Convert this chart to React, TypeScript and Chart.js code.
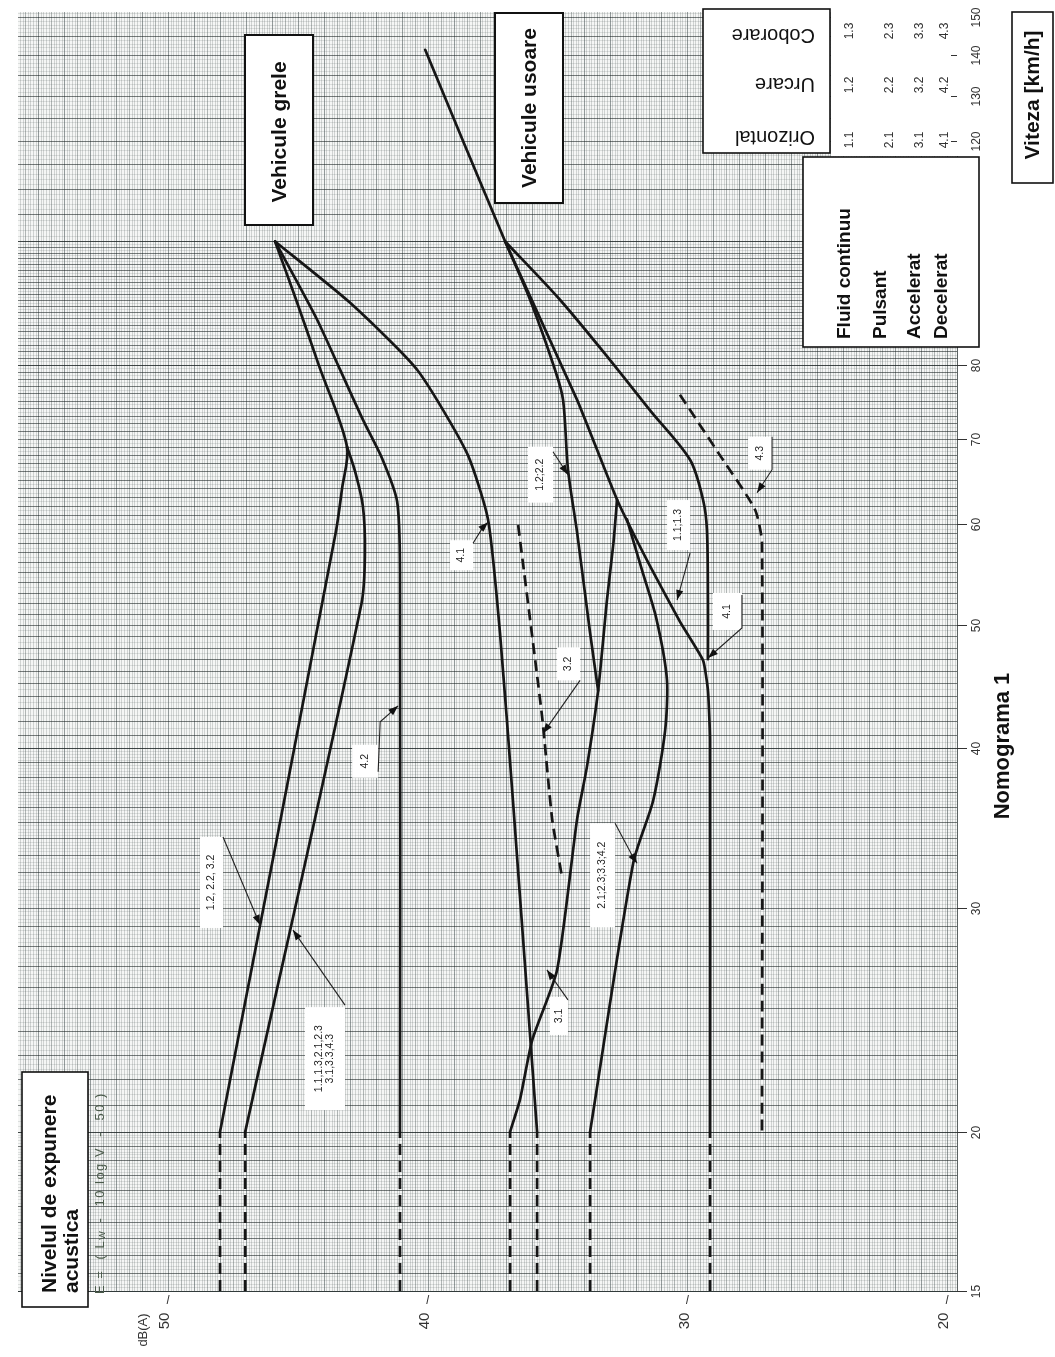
import { useEffect, useRef } from 'react';
import { Chart, registerables } from 'chart.js';

Chart.register(...registerables);

type Pt = [number, number]; // [dB(A), km/h]

const W = 1055;
const H = 1357;

// axis ranges
const DB_MIN = 19.62;
const DB_MAX = 55.78;
const V_MIN = 15;
const V_MAX = 151.4;

// tick labels
const dbTicks = [20, 30, 40, 50];
const speedTicks = [15, 20, 30, 40, 50, 60, 70, 80];
const topSpeedTicks = [120, 130, 140, 150];

// ---- Vehicule grele (heavy vehicles) ----
const heavyUphill: Pt[] = [[48.0, 20], [43.55, 59], [43.3, 64], [43.11, 69], [44.2, 80], [45.07, 90], [45.88, 100]]; // 1.2, 2.2, 3.2
const heavyLevel: Pt[] = [[47.03, 20], [42.55, 52], [42.42, 57], [42.5, 62], [42.8, 66], [43.11, 69]]; // 1.1,1.3,2.1,2.3,3.1,3.3,4.3
const heavyDecelUp: Pt[] = [[41.07, 20], [41.07, 55], [41.18, 62.5], [41.75, 67.5], [42.49, 72.4], [43.4, 79.5], [44.26, 86.8], [45.1, 93.5], [45.88, 100]]; // 4.2
const heavyDecel: Pt[] = [[35.79, 20], [36.72, 36.4], [37.22, 49.3], [37.68, 60.5], [38.49, 68.2], [40.41, 79.3], [42.99, 89.5], [45.88, 100]]; // 4.1

// ---- Vehicule usoare (light vehicles) ----
const lightFluid: Pt[] = [[40.1, 141.4], [37.02, 100], [34.25, 75.1], [32.71, 62.7], [31.44, 55.6], [30.29, 50.3], [29.4, 46.9], [29.21, 44.4], [29.13, 40.6], [29.13, 20]]; // 1.1;1.3
const lightDecel: Pt[] = [[37.02, 100], [34.91, 90], [32.98, 80.7], [31.44, 73.7], [29.9, 67.4], [29.4, 62.7], [29.25, 59.4], [29.21, 52], [29.21, 47]]; // 4.1
const lightUphill: Pt[] = [[37.02, 100], [36.06, 90], [35.1, 79.3], [34.79, 75.1], [34.6, 66.2], [34.25, 59.1], [33.75, 49.3], [33.44, 44.4]]; // 1.2;2.2
const lightAccel: Pt[] = [[36.83, 20], [36.45, 21.2], [35.98, 23.6], [35.02, 26.8], [34.25, 35.2], [33.87, 38.7], [33.44, 44.4], [33.1, 52.3], [32.85, 58], [32.71, 62.7]]; // 3.1
const lightPulsed: Pt[] = [[33.75, 20], [32.09, 32.5], [31.32, 36.4], [30.86, 41.3], [30.79, 45.3], [31.2, 50.6], [31.75, 55.2], [32.33, 60.5]]; // 2.1;2.3;3.3;4.2
const lightAccelUp: Pt[] = [[36.52, 59.9], [35.6, 42.4], [35.21, 35.2], [34.83, 31.7]]; // 3.2 (dashed)
const lightDecelDown: Pt[] = [[30.29, 75.8], [28.74, 67.9], [27.4, 61.6], [27.13, 58], [27.13, 20]]; // 4.3 (dashed)

// constant levels below 20 km/h (dashed)
const lowSpeedLevels = [48.0, 47.03, 41.07, 35.79, 36.83, 33.75, 29.13];
const lowSpeedRange = [15, 20];

// curve labels: text, arrow tip [dB, km/h], box [dx, dy, w, h] in px from tip, leader points (px from tip)
const curveLabels: { lines: string[]; tip: Pt; box: number[]; leader: number[][] }[] = [
  { lines: ['1.2, 2.2, 3.2'], tip: [46.46, 29.07], box: [-60, -88, 23, 91], leader: [[-37, -88]] },
  { lines: ['1.1,1.3,2.1,2.3', '3.1,3.3,4.3'], tip: [45.19, 28.8], box: [12, 77, 40, 103], leader: [[52, 75]] },
  { lines: ['4.2'], tip: [41.14, 43.2], box: [-46, 39, 26, 33], leader: [[-20, 66], [-18, 16]] },
  { lines: ['4.1'], tip: [37.68, 60.2], box: [-38, 18, 23, 30], leader: [[-15, 21], [-5, 5]] },
  { lines: ['1.2;2.2'], tip: [34.6, 65.6], box: [-40, -28, 25, 56], leader: [[-15, -23]] },
  { lines: ['3.2'], tip: [35.56, 41.1], box: [14, -86, 23, 33], leader: [[37, -53]] },
  { lines: ['1.1;1.3'], tip: [30.4, 52.3], box: [-10, -100, 23, 50], leader: [[13, -47]] },
  { lines: ['4.1'], tip: [29.21, 47.1], box: [5, -65, 29, 37], leader: [[34, -63], [34, -30]] },
  { lines: ['4.3'], tip: [27.32, 63.5], box: [-9, -56, 24, 33], leader: [[15, -56], [15, -23]] },
  { lines: ['2.1;2.3;3.3;4.2'], tip: [31.94, 32.5], box: [-47, -40, 25, 104], leader: [[-22, -40], [-4, -6]] },
  { lines: ['3.1'], tip: [35.41, 26.8], box: [3, 27, 18, 38], leader: [[21, 30]] },
];

const tableCols = [
  ['1.1', '1.2', '1.3'],
  ['2.1', '2.2', '2.3'],
  ['3.1', '3.2', '3.3'],
  ['4.1', '4.2', '4.3'],
];
const gradeLabels = ['Orizontal', 'Urcare', 'Coborare'];
const flowLabels = ['Fluid continuu', 'Pulsant', 'Accelerat', 'Decelerat'];

const SANS = '"Liberation Sans", Arial, sans-serif';
const NARROW = '"Liberation Sans Narrow", "Liberation Sans", Arial, sans-serif';

function toXY(p: Pt[]) {
  return p.map(([x, y]) => ({ x, y }));
}

function solid(p: Pt[], tension = 0.3) {
  return {
    data: toXY(p),
    borderColor: '#161616',
    borderWidth: 2.7,
    pointRadius: 0,
    fill: false,
    tension,
    borderCapStyle: 'round',
    borderJoinStyle: 'round',
  };
}
function dashed(p: Pt[], tension = 0.2) {
  return { ...solid(p, tension), borderDash: [11, 6], borderCapStyle: 'butt' };
}

function rotText(ctx: CanvasRenderingContext2D, text: string, x: number, y: number, font: string, angle = -Math.PI / 2, align: CanvasTextAlign = 'center', color = '#111') {
  ctx.save();
  ctx.translate(x, y);
  ctx.rotate(angle);
  ctx.font = font;
  ctx.fillStyle = color;
  ctx.textAlign = align;
  ctx.textBaseline = 'middle';
  ctx.fillText(text, 0, 0);
  ctx.restore();
}

function box(ctx: CanvasRenderingContext2D, x0: number, y0: number, x1: number, y1: number, lw = 2) {
  ctx.save();
  ctx.fillStyle = '#fff';
  ctx.fillRect(x0, y0, x1 - x0, y1 - y0);
  ctx.strokeStyle = '#111';
  ctx.lineWidth = lw;
  ctx.strokeRect(x0, y0, x1 - x0, y1 - y0);
  ctx.restore();
}

const paperPlugin = {
  id: 'paper',
  beforeDatasetsDraw(chart: any) {
    const { ctx, chartArea: a, scales } = chart;
    const xs = scales.x;
    const ys = scales.y;
    ctx.save();
    ctx.fillStyle = '#f5f6f5';
    ctx.fillRect(a.left, a.top, a.right - a.left, a.bottom - a.top);
    ctx.lineWidth = 1;
    // vertical lines (constant dB)
    for (let i = Math.ceil(DB_MIN * 10); i <= Math.floor(DB_MAX * 10); i++) {
      const px = Math.round(xs.getPixelForValue(i / 10)) + 0.5;
      ctx.strokeStyle = i % 10 === 0 ? 'rgba(40,55,55,0.48)' : i % 5 === 0 ? 'rgba(50,60,60,0.35)' : 'rgba(70,80,80,0.21)';
      ctx.beginPath();
      ctx.moveTo(px, a.top);
      ctx.lineTo(px, a.bottom);
      ctx.stroke();
    }
    // horizontal lines (constant speed)
    const bands = [
      [15, 20, 0.5, 0.1],
      [20, 40, 1, 0.2],
      [40, 80, 1, 0.5],
      [80, 100, 1, 0.5],
      [100, 151, 5, 1],
    ];
    for (const [lo, hi, major, minor] of bands) {
      const n = Math.round((hi - lo) / minor);
      for (let k = 0; k <= n; k++) {
        const v = lo + k * minor;
        if (v > V_MAX) break;
        const isMajor = Math.abs(v / major - Math.round(v / major)) < 1e-6;
        const py = Math.round(ys.getPixelForValue(v)) + 0.5;
        ctx.strokeStyle = isMajor ? 'rgba(25,35,35,0.58)' : 'rgba(70,80,80,0.15)';
        ctx.beginPath();
        ctx.moveTo(a.left, py);
        ctx.lineTo(a.right, py);
        ctx.stroke();
      }
    }
    // white area behind the table
    ctx.fillStyle = '#fff';
    ctx.fillRect(831, 6, a.right - 831 + 12, 150);
    // plot edges
    ctx.strokeStyle = 'rgba(20,30,30,0.7)';
    ctx.beginPath();
    ctx.moveTo(a.right + 0.5, 156);
    ctx.lineTo(a.right + 0.5, a.bottom + 0.5);
    ctx.lineTo(a.left, a.bottom + 0.5);
    ctx.stroke();
    ctx.restore();
  },
};

const labelsPlugin = {
  id: 'curveLabels',
  afterDatasetsDraw(chart: any) {
    const { ctx, scales } = chart;
    ctx.save();
    for (const lab of curveLabels) {
      const tx = scales.x.getPixelForValue(lab.tip[0]);
      const ty = scales.y.getPixelForValue(lab.tip[1]);
      const [dx, dy, w, h] = lab.box;
      ctx.fillStyle = '#fff';
      ctx.fillRect(tx + dx, ty + dy, w, h);
      const n = lab.lines.length;
      lab.lines.forEach((t, i) => {
        const cx = tx + dx + w / 2 + (i - (n - 1) / 2) * 11;
        rotText(ctx, t, cx, ty + dy + h / 2, `10.5px ${NARROW}`, -Math.PI / 2, 'center', '#222');
      });
      const pts = lab.leader.map(([px, py]) => [tx + px, ty + py]);
      pts.push([tx, ty]);
      ctx.strokeStyle = '#222';
      ctx.lineWidth = 1.1;
      ctx.beginPath();
      ctx.moveTo(pts[0][0], pts[0][1]);
      for (let i = 1; i < pts.length; i++) ctx.lineTo(pts[i][0], pts[i][1]);
      ctx.stroke();
      const [x1, y1] = pts[pts.length - 2];
      const ang = Math.atan2(ty - y1, tx - x1);
      const L = 10;
      const Wd = 3.6;
      ctx.fillStyle = '#111';
      ctx.beginPath();
      ctx.moveTo(tx, ty);
      ctx.lineTo(tx - L * Math.cos(ang) + Wd * Math.sin(ang), ty - L * Math.sin(ang) - Wd * Math.cos(ang));
      ctx.lineTo(tx - L * Math.cos(ang) - Wd * Math.sin(ang), ty - L * Math.sin(ang) + Wd * Math.cos(ang));
      ctx.closePath();
      ctx.fill();
    }
    ctx.restore();
  },
};

const decorPlugin = {
  id: 'decor',
  afterDraw(chart: any) {
    const { ctx, chartArea: a, scales } = chart;
    const xs = scales.x;
    const ys = scales.y;
    ctx.save();
    // dB axis
    ctx.strokeStyle = '#333';
    ctx.lineWidth = 1;
    for (const v of dbTicks) {
      const px = xs.getPixelForValue(v);
      ctx.beginPath();
      ctx.moveTo(px + 1, a.bottom + 4);
      ctx.lineTo(px - 1, a.bottom + 13);
      ctx.stroke();
      rotText(ctx, String(v), px - 3, a.bottom + 30, `15px ${NARROW}`, -Math.PI / 2, 'center', '#333');
    }
    rotText(ctx, 'dB(A)', xs.getPixelForValue(50) - 25, a.bottom + 39, `13px ${NARROW}`, -Math.PI / 2, 'center', '#333');
    // speed axis
    for (const v of speedTicks) {
      const py = Math.round(ys.getPixelForValue(v)) + 0.5;
      ctx.beginPath();
      ctx.moveTo(a.right, py);
      ctx.lineTo(a.right + 10, py);
      ctx.stroke();
      rotText(ctx, String(v), a.right + 20, py, `12px ${NARROW}`, -Math.PI / 2, 'center', '#333');
    }
    for (const v of topSpeedTicks) {
      const py = Math.round(ys.getPixelForValue(v)) + 0.5;
      if (v !== 150) {
        ctx.beginPath();
        ctx.moveTo(a.right - 6, py);
        ctx.lineTo(a.right, py);
        ctx.stroke();
      }
      rotText(ctx, String(v), a.right + 20, py, `12px ${NARROW}`, -Math.PI / 2, 'center', '#333');
    }
    // table numbers
    const colX = [850, 890, 920, 945];
    const rowY = [140, 85, 31];
    tableCols.forEach((col, ci) => {
      col.forEach((t, ri) => {
        rotText(ctx, t, colX[ci], rowY[ri], `12px ${NARROW}`, -Math.PI / 2, 'center', '#333');
      });
    });

    // boxes
    box(ctx, 245, 35, 313, 225);
    rotText(ctx, 'Vehicule grele', 280, 132, `bold 21px ${SANS}`);
    box(ctx, 495, 13, 563, 203);
    rotText(ctx, 'Vehicule usoare', 530, 108, `bold 21px ${SANS}`);

    box(ctx, 703, 9, 830, 153, 1.6);
    const gy = [137, 84, 35];
    gradeLabels.forEach((t, i) => rotText(ctx, t, 815, gy[i], `20px ${SANS}`, Math.PI, 'left', '#111'));

    box(ctx, 803, 157, 979, 347, 1.6);
    const fx = [845, 881, 915, 942];
    flowLabels.forEach((t, i) => rotText(ctx, t, fx[i], 339, `bold 19px ${SANS}`, -Math.PI / 2, 'left'));

    box(ctx, 1012, 12, 1053, 183, 1.6);
    rotText(ctx, 'Viteza [km/h]', 1033, 95, `bold 21px ${SANS}`);

    box(ctx, 22, 1072, 88, 1307, 1.6);
    rotText(ctx, 'Nivelul de expunere', 50, 1293, `bold 21px ${SANS}`, -Math.PI / 2, 'left');
    rotText(ctx, 'acustica', 72, 1293, `bold 21px ${SANS}`, -Math.PI / 2, 'left');

    // formula
    ctx.save();
    ctx.translate(100, 1294);
    ctx.rotate(-Math.PI / 2);
    ctx.fillStyle = '#4a5a4a';
    ctx.textBaseline = 'middle';
    ctx.textAlign = 'left';
    (ctx as any).letterSpacing = '1.5px';
    ctx.font = `13px ${NARROW}`;
    let cx = 0;
    const seg1 = 'E =  ( L';
    ctx.fillText(seg1, cx, 0);
    cx += ctx.measureText(seg1).width;
    ctx.font = `9px ${NARROW}`;
    ctx.fillText('W', cx, 3);
    cx += ctx.measureText('W').width + 2;
    ctx.font = `13px ${NARROW}`;
    ctx.fillText(' -  10 log V  -  50 )', cx, 0);
    ctx.restore();

    rotText(ctx, 'Nomograma 1', 1003, 746, `bold 22px ${SANS}`);
    ctx.restore();
  },
};

export default function App() {
  const ref = useRef<HTMLCanvasElement>(null);
  useEffect(() => {
    const prev = document.body.style.margin;
    document.body.style.margin = '0';
    const canvas = ref.current!;
    const datasets: any[] = [
      solid(heavyUphill),
      solid(heavyLevel),
      solid(heavyDecelUp, 0.25),
      solid(heavyDecel, 0.2),
      solid(lightFluid, 0.15),
      solid(lightDecel),
      solid(lightUphill),
      solid(lightAccel, 0.2),
      solid(lightPulsed, 0.25),
      dashed(lightAccelUp),
      dashed(lightDecelDown),
      ...lowSpeedLevels.map((db) => dashed(lowSpeedRange.map((v) => [db, v] as Pt), 0)),
    ];
    const chart = new Chart(canvas, {
      type: 'line',
      data: { datasets },
      options: {
        animation: false,
        responsive: false,
        devicePixelRatio: 1,
        layout: { padding: { left: 18, right: W - 957, top: 12, bottom: H - 1291 } },
        plugins: { legend: { display: false }, tooltip: { enabled: false } },
        scales: {
          x: { type: 'linear', reverse: true, min: DB_MIN, max: DB_MAX, display: false },
          y: { type: 'logarithmic', min: V_MIN, max: V_MAX, display: false },
        },
        elements: { point: { radius: 0 } },
      } as any,
      plugins: [paperPlugin, labelsPlugin, decorPlugin],
    });
    return () => {
      chart.destroy();
      document.body.style.margin = prev;
    };
  }, []);
  return <canvas ref={ref} width={W} height={H} style={{ display: 'block', width: W, height: H }} />;
}
